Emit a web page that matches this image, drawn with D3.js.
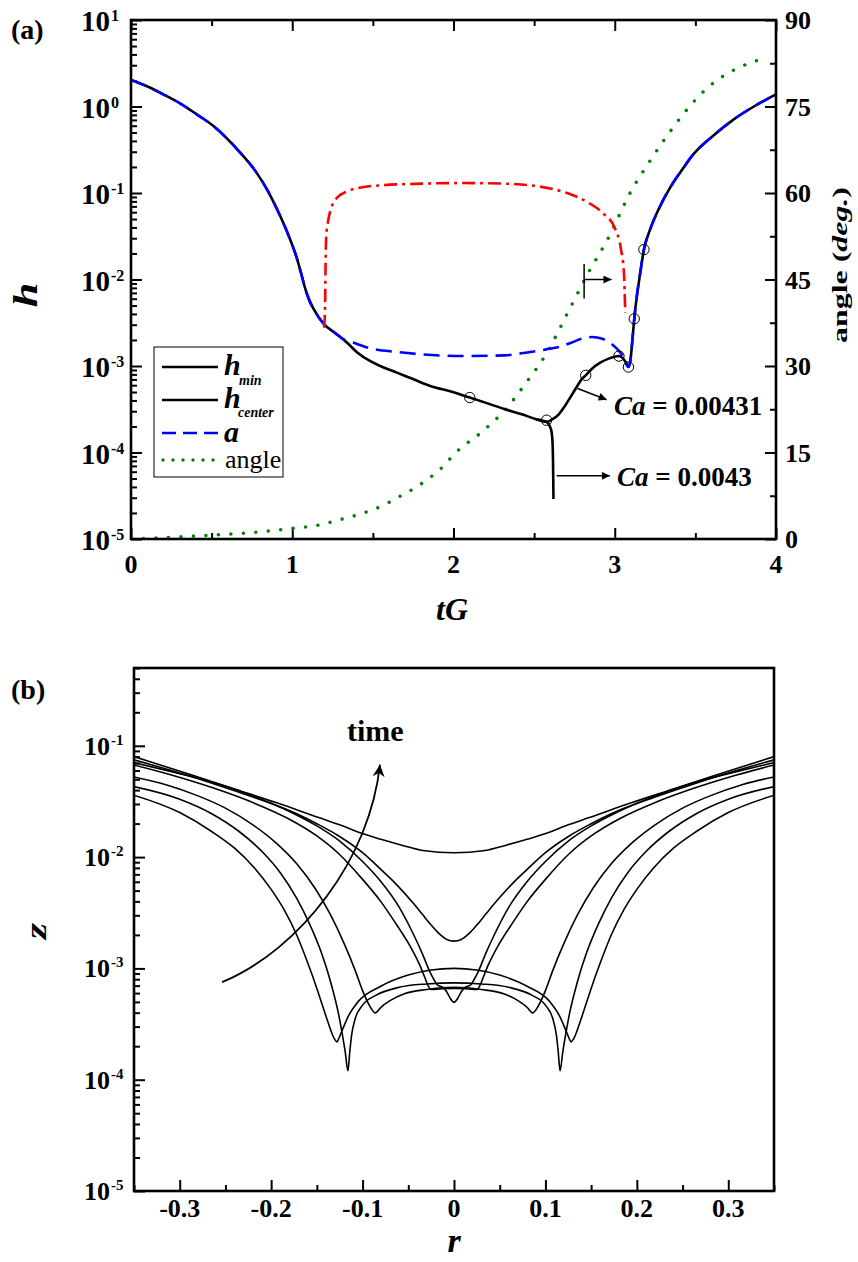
<!DOCTYPE html>
<html><head><meta charset="utf-8">
<script src="https://cdn.jsdelivr.net/npm/d3@7"></script>
<style>
body{margin:0;background:#fff}
svg{display:block}
</style>
</head><body><svg id="c" width="858" height="1262" font-family="Liberation Serif, Times New Roman, DejaVu Serif, serif" font-weight="bold"></svg>
<script>
// ---------- Panel (a) data (h values stored as log10) ----------
const hmin_t   = [0,0.103,0.206,0.309,0.412,0.515,0.593,0.670,0.773,0.850,0.902,0.940,0.979,1.031,1.057,1.082,1.108,1.134,1.198,1.263,1.340,1.405,1.482,1.546,1.649,1.753,1.856,1.985,2.101,2.216,2.320,2.423,2.513,2.577,2.614,2.653,2.691,2.730,2.768,2.794,2.820,2.859,2.910,2.962,3.026,3.052,3.070,3.085,3.098,3.108,3.121,3.137,3.155,3.181,3.219,3.271,3.348,3.425,3.477,3.605,3.734,3.863,4.0];
const hmin_log = [0.308,0.231,0.135,0.031,-0.096,-0.231,-0.365,-0.519,-0.75,-0.981,-1.173,-1.327,-1.5,-1.769,-1.942,-2.115,-2.25,-2.346,-2.519,-2.615,-2.731,-2.846,-2.942,-3.0,-3.077,-3.154,-3.231,-3.296,-3.365,-3.435,-3.5,-3.558,-3.615,-3.646,-3.615,-3.558,-3.462,-3.346,-3.231,-3.154,-3.108,-3.031,-2.962,-2.915,-2.885,-2.915,-2.962,-3.012,-2.923,-2.731,-2.454,-2.192,-1.962,-1.654,-1.423,-1.192,-0.923,-0.712,-0.577,-0.346,-0.154,0.0,0.14];
// Ca = 0.0043 branch (film ruptures)
const rupt_t   = [2.513,2.577,2.596,2.609,2.614,2.617,2.619,2.62];
const rupt_log = [-3.615,-3.646,-3.692,-3.769,-3.885,-4.077,-4.385,-4.538];
// a (dashed blue)
const a_t   = [0,0.103,0.206,0.309,0.412,0.515,0.593,0.670,0.773,0.850,0.902,0.940,0.979,1.031,1.057,1.082,1.108,1.134,1.198,1.263,1.313,1.391,1.494,1.649,1.803,2.06,2.318,2.447,2.575,2.653,2.730,2.794,2.859,2.923,2.975,3.013,3.052,3.085,3.098,3.108,3.121,3.137,3.155,3.181,3.219,3.271,3.348,3.425,3.477,3.605,3.734,3.863,4.0];
const a_log = [0.308,0.231,0.135,0.031,-0.096,-0.231,-0.365,-0.519,-0.75,-0.981,-1.173,-1.327,-1.5,-1.769,-1.942,-2.115,-2.25,-2.346,-2.519,-2.612,-2.685,-2.738,-2.8,-2.838,-2.865,-2.885,-2.877,-2.846,-2.808,-2.781,-2.731,-2.685,-2.665,-2.685,-2.738,-2.8,-2.892,-3.012,-2.923,-2.731,-2.454,-2.192,-1.962,-1.654,-1.423,-1.192,-0.923,-0.712,-0.577,-0.346,-0.154,0.0,0.14];
// red dash-dot
const red_t   = [1.198,1.204,1.206,1.211,1.224,1.242,1.276,1.340,1.443,1.546,1.803,2.060,2.318,2.524,2.704,2.833,2.936,3.0,3.039,3.057,3.065];
const red_log = [-2.558,-2.269,-1.923,-1.5,-1.308,-1.173,-1.058,-0.981,-0.931,-0.912,-0.892,-0.885,-0.892,-0.923,-1.0,-1.108,-1.25,-1.404,-1.654,-1.923,-2.385];
// contact angle (deg.)
const ang_t   = [0,0.258,0.515,0.773,1.005,1.16,1.289,1.418,1.546,1.675,1.804,1.933,2.01,2.19,2.32,2.448,2.577,2.706,2.835,2.964,3.093,3.222,3.35,3.479,3.608,3.737,3.93];
const ang_deg = [0,0.3,0.7,1.16,1.85,2.4,3.3,4.3,5.6,7.5,9.65,12.5,14.86,18.9,22.4,27.0,32.2,39.1,46.1,52.4,59.9,65.7,70.9,75.5,79.0,81.3,83.4];
// open circles (times of profiles)
const circ_t   = [2.101,2.577,2.820,3.026,3.085,3.121,3.181];
const circ_log = [-3.365,-3.627,-3.108,-2.885,-3.012,-2.454,-1.654];

const tGTicks = [0,1,2,3,4];
const tGMinor = [0.5,1.5,2.5,3.5];
const hDecades = [-5,-4,-3,-2,-1,0,1];
const angTicks = [0,15,30,45,60,75,90];
const angMinor = [7.5,22.5,37.5,52.5,67.5,82.5];

// ---------- Panel (b) data: half profiles (r >= 0, mirrored), log10 z ----------
const pA_r = [0,0.034,0.057,0.08,0.102,0.125,0.148,0.193,0.239,0.285,0.354];
const pA_z = [-1.961,-1.94,-1.893,-1.84,-1.784,-1.71,-1.645,-1.515,-1.391,-1.267,-1.087];
const pB_r = [0,0.008,0.016,0.025,0.035,0.044,0.066,0.08,0.1,0.126,0.15,0.172,0.22,0.263,0.31,0.354];
const pB_z = [-2.755,-2.74,-2.69,-2.61,-2.51,-2.42,-2.22,-2.11,-1.96,-1.81,-1.70,-1.61,-1.46,-1.34,-1.22,-1.118];
const pC_r = [0,0.004,0.008,0.012,0.018,0.022,0.027,0.035,0.044,0.06,0.08,0.1,0.126,0.15,0.18,0.22,0.263,0.31,0.354];
const pC_z = [-3.305,-3.27,-3.21,-3.17,-3.15,-3.10,-3.02,-2.86,-2.70,-2.45,-2.22,-2.04,-1.85,-1.72,-1.59,-1.45,-1.33,-1.23,-1.143];
const pD_r = [0,0.012,0.02,0.025,0.028,0.032,0.038,0.048,0.065,0.08,0.1,0.126,0.15,0.18,0.22,0.263,0.31,0.354];
const pD_z = [-3.18,-3.182,-3.188,-3.19,-3.16,-3.08,-2.96,-2.80,-2.58,-2.40,-2.20,-1.97,-1.81,-1.66,-1.51,-1.38,-1.26,-1.164];
const pE_r = [0,0.03,0.055,0.07,0.08,0.086,0.092,0.1,0.108,0.12,0.135,0.152,0.172,0.195,0.22,0.25,0.28,0.315,0.354];
const pE_z = [-3.17,-3.19,-3.23,-3.29,-3.35,-3.40,-3.34,-3.20,-3.02,-2.78,-2.52,-2.28,-2.06,-1.87,-1.71,-1.56,-1.45,-1.35,-1.273];
const pG_r = [0,0.03,0.06,0.085,0.1,0.108,0.112,0.114,0.116,0.119,0.122,0.126,0.135,0.145,0.158,0.172,0.19,0.21,0.235,0.265,0.3,0.354];
const pG_z = [-3.13,-3.14,-3.17,-3.24,-3.33,-3.45,-3.6,-3.75,-3.92,-3.75,-3.6,-3.42,-3.12,-2.86,-2.6,-2.37,-2.14,-1.95,-1.77,-1.61,-1.48,-1.36];
const pH_r = [0,0.025,0.05,0.08,0.105,0.115,0.122,0.126,0.128,0.131,0.135,0.14,0.15,0.16,0.172,0.186,0.2,0.218,0.24,0.265,0.3,0.354];
const pH_z = [-3.0,-3.015,-3.06,-3.16,-3.30,-3.42,-3.55,-3.63,-3.66,-3.63,-3.55,-3.43,-3.18,-2.95,-2.70,-2.47,-2.29,-2.10,-1.92,-1.77,-1.60,-1.434];
const profiles = [[pA_r,pA_z],[pB_r,pB_z],[pC_r,pC_z],[pD_r,pD_z],[pE_r,pE_z],[pG_r,pG_z],[pH_r,pH_z]];
const rTicks = [-0.3,-0.2,-0.1,0,0.1,0.2,0.3];
const rTickLabels = ["-0.3","-0.2","-0.1","0","0.1","0.2","0.3"];
const rMinor = [-0.35,-0.25,-0.15,-0.05,0.05,0.15,0.25,0.35];
const zDecades = [-5,-4,-3,-2,-1];

// ---------- drawing ----------
const FF = "'Liberation Serif','Times New Roman',Tinos,'DejaVu Serif',serif";
const svg = d3.select("#c");
svg.append("rect").attr("width",858).attr("height",1262).attr("fill","#fff");
const defs = svg.append("defs");
defs.append("marker").attr("id","arrS").attr("viewBox","0 0 10 10").attr("refX",10).attr("refY",5)
  .attr("markerUnits","userSpaceOnUse").attr("markerWidth",11).attr("markerHeight",8).attr("orient","auto")
  .append("path").attr("d","M0,0 L10,5 L0,10 z").attr("fill","#000");
defs.append("marker").attr("id","arrB").attr("viewBox","0 0 10 10").attr("refX",10).attr("refY",5)
  .attr("markerUnits","userSpaceOnUse").attr("markerWidth",16).attr("markerHeight",12).attr("orient","auto")
  .append("path").attr("d","M0,0 L10,5 L0,10 L3,5 z").attr("fill","#000");

const P = v => Math.pow(10, v);
const zip = (a,b) => a.map((d,i)=>[d,b[i]]);
function T(g, size, opts={}){
  const t = g.append("text").style("font-family",FF).style("font-weight",opts.normal?"normal":"bold").style("font-size",size+"px").attr("fill","#000");
  if(opts.italic) t.style("font-style","italic");
  return t;
}

// Panel (a) scales
const xa = d3.scaleLinear().domain([0,4]).range([131,776]);
const ya = d3.scaleLog().domain([1e-5,10]).range([539,20]);
const yr = d3.scaleLinear().domain([0,90]).range([539,20]);

const ga = svg.append("g");
function minorLog(decs){ const m=[]; decs.forEach(d=>{ if(d<d3.max(decs)) for(let k=2;k<=9;k++) m.push(k*P(d)); }); return m; }
function axisStyle(g){ g.select(".domain").remove(); g.selectAll("line").attr("stroke","#000").attr("stroke-width",2); }
ga.append("g").attr("transform","translate(131,0)").call(d3.axisLeft(ya).tickValues(hDecades.map(P)).tickSize(-11).tickFormat("")).call(axisStyle);
ga.append("g").attr("transform","translate(131,0)").call(d3.axisLeft(ya).tickValues(minorLog(hDecades)).tickSize(-6).tickFormat("")).call(axisStyle);
ga.append("g").attr("transform","translate(776,0)").call(d3.axisRight(yr).tickValues(angTicks).tickSize(-11).tickFormat("")).call(axisStyle);
ga.append("g").attr("transform","translate(776,0)").call(d3.axisRight(yr).tickValues(angMinor).tickSize(-6).tickFormat("")).call(axisStyle);
ga.append("g").attr("transform","translate(0,539)").call(d3.axisBottom(xa).tickValues(tGTicks).tickSize(-11).tickFormat("")).call(axisStyle);
ga.append("g").attr("transform","translate(0,539)").call(d3.axisBottom(xa).tickValues(tGMinor).tickSize(-6).tickFormat("")).call(axisStyle);
ga.append("g").attr("transform","translate(0,20)").call(d3.axisTop(xa).tickValues(tGTicks).tickSize(-11).tickFormat("")).call(axisStyle);
ga.append("g").attr("transform","translate(0,20)").call(d3.axisTop(xa).tickValues(tGMinor).tickSize(-6).tickFormat("")).call(axisStyle);

// tick labels (a)
hDecades.forEach(d=>{
  const y = ya(P(d));
  T(ga,29).attr("x",110).attr("y",y+11).attr("text-anchor","end").text("10");
  T(ga,16).attr("x",111).attr("y",y+1).text(String(d));
});
tGTicks.forEach(t=>{ T(ga,26).attr("x",xa(t)).attr("y",573).attr("text-anchor","middle").text(String(t)); });
angTicks.forEach(a=>{ T(ga,26).attr("x",785).attr("y",yr(a)+9).text(String(a)); });
// axis titles (a)
T(ga,34,{italic:true}).attr("transform","translate(37,295) rotate(-90) scale(1.3,1)").attr("text-anchor","middle").text("h");
T(ga,32,{italic:true}).attr("x",452).attr("y",620).attr("text-anchor","middle").text("tG");
const rt = T(ga,22).attr("transform","translate(847,265) rotate(-90) scale(1.45,1)").attr("text-anchor","middle");
rt.append("tspan").text("angle (");
rt.append("tspan").style("font-style","italic").text("deg.");
rt.append("tspan").text(")");
T(ga,28).attr("x",11).attr("y",39).text("(a)");

// curves (a)
const lineA = d3.line().x(d=>xa(d[0])).y(d=>ya(P(d[1]))).curve(d3.curveMonotoneX);
const lineAng = d3.line().x(d=>xa(d[0])).y(d=>yr(d[1])).curve(d3.curveMonotoneX);
defs.append("clipPath").attr("id","clipA").append("rect").attr("x",131).attr("y",20).attr("width",645).attr("height",519);
const cg = ga.append("g").attr("clip-path","url(#clipA)");
cg.append("path").attr("d",lineAng(zip(ang_t,ang_deg))).attr("fill","none").attr("stroke","#008000")
  .attr("stroke-width",3.6).attr("stroke-linecap","round").attr("stroke-dasharray","0,12.5");
cg.append("path").attr("d",lineA(zip(rupt_t,rupt_log))).attr("fill","none").attr("stroke","#000").attr("stroke-width",2.6);
cg.append("path").attr("d",lineA(zip(hmin_t,hmin_log))).attr("fill","none").attr("stroke","#000").attr("stroke-width",2.6);
cg.append("path").attr("d",lineA(zip(a_t,a_log))).attr("fill","none").attr("stroke","#0000ff").attr("stroke-width",2.6).attr("stroke-dasharray","16,8");
cg.append("path").attr("d",lineA(zip(red_t,red_log))).attr("fill","none").attr("stroke","#ff0000").attr("stroke-width",2.6).attr("stroke-dasharray","13,5,3,5");
cg.selectAll("circle.m").data(zip(circ_t,circ_log)).enter().append("circle")
  .attr("cx",d=>xa(d[0])).attr("cy",d=>ya(P(d[1]))).attr("r",5.2).attr("fill","none").attr("stroke","#000").attr("stroke-width",1);

// frame (a)
ga.append("rect").attr("x",131).attr("y",20).attr("width",645).attr("height",519).attr("fill","none").attr("stroke","#000").attr("stroke-width",2.6);

// annotations (a)
function ann(g,x1,y1,x2,y2){ g.append("line").attr("x1",x1).attr("y1",y1).attr("x2",x2).attr("y2",y2).attr("stroke","#000").attr("stroke-width",1.5).attr("marker-end","url(#arrS)"); }
ann(ga, xa(2.77), ya(P(-3.26)), xa(2.95), ya(P(-3.39)));
ann(ga, xa(2.64), ya(P(-4.27)), xa(2.97), ya(P(-4.27)));
ga.append("line").attr("x1",xa(2.81)).attr("x2",xa(2.81)).attr("y1",ya(P(-1.82))).attr("y2",ya(P(-2.22))).attr("stroke","#000").attr("stroke-width",1.5);
ann(ga, xa(2.81), ya(P(-2.0)), xa(2.98), ya(P(-2.0)));
function caLabel(g,x,y,val){
  const t = T(g,27).attr("x",x).attr("y",y);
  t.append("tspan").style("font-style","italic").text("Ca");
  t.append("tspan").text(" = " + val);
}
caLabel(ga, 614, 415, "0.00431");
caLabel(ga, 617, 486, "0.0043");

// legend (a)
const lg = ga.append("g");
lg.append("rect").attr("x",154).attr("y",347).attr("width",129).attr("height",130).attr("fill","#fff").attr("stroke","#000").attr("stroke-width",1);
const legItems = [
  {y:367, stroke:"#000", dash:null, w:2.6},
  {y:400, stroke:"#000", dash:null, w:2.6},
  {y:433, stroke:"#0000ff", dash:"14,7", w:2.6},
  {y:460, stroke:"#008000", dash:"0,10", w:3.4, cap:"round"}
];
legItems.forEach(d=>{
  lg.append("line").attr("x1",d.cap?163:162).attr("x2",218).attr("y1",d.y).attr("y2",d.y).attr("stroke",d.stroke)
    .attr("stroke-width",d.w).attr("stroke-dasharray",d.dash).attr("stroke-linecap",d.cap||"butt");
});
T(lg,30,{italic:true}).attr("x",224).attr("y",375).text("h");
T(lg,14,{italic:true}).attr("x",239).attr("y",385).text("min");
T(lg,30,{italic:true}).attr("x",224).attr("y",408).text("h");
T(lg,14,{italic:true}).attr("x",238).attr("y",417).text("center");
T(lg,30,{italic:true}).attr("x",224).attr("y",442).text("a");
T(lg,26,{normal:true}).attr("x",225).attr("y",468).text("angle");

// ---------- Panel (b) ----------
const xb = d3.scaleLinear().domain([-0.35,0.35]).range([134,774]);
const yb = d3.scaleLog().domain([1e-5,0.5]).range([1191,668]);
const gb = svg.append("g");
gb.append("g").attr("transform","translate(134,0)").call(d3.axisLeft(yb).tickValues(zDecades.map(P)).tickSize(-11).tickFormat("")).call(axisStyle);
const zMinor = []; zDecades.forEach(d=>{ for(let k=2;k<=9;k++){ const v=k*P(d); if(v<=0.5) zMinor.push(v);} });
gb.append("g").attr("transform","translate(134,0)").call(d3.axisLeft(yb).tickValues(zMinor).tickSize(-6).tickFormat("")).call(axisStyle);
gb.append("g").attr("transform","translate(0,1191)").call(d3.axisBottom(xb).tickValues(rTicks).tickSize(-11).tickFormat("")).call(axisStyle);
gb.append("g").attr("transform","translate(0,1191)").call(d3.axisBottom(xb).tickValues(rMinor).tickSize(-6).tickFormat("")).call(axisStyle);
zDecades.forEach(d=>{
  const y = yb(P(d));
  T(gb,26).attr("x",110).attr("y",y+9).attr("text-anchor","end").text("10");
  T(gb,15).attr("x",111).attr("y",y-1).text(String(d));
});
rTicks.forEach((t,i)=>{ T(gb,26).attr("x",xb(t)).attr("y",1217).attr("text-anchor","middle").text(rTickLabels[i]); });
T(gb,30,{italic:true}).attr("transform","translate(46,931) rotate(-90) scale(1.4,1)").attr("text-anchor","middle").text("z");
T(gb,34,{italic:true}).attr("x",454).attr("y",1252).attr("text-anchor","middle").text("r");
T(gb,28).attr("x",11).attr("y",699).text("(b)");

const lineB = d3.line().x(d=>xb(d[0])).y(d=>yb(P(d[1]))).curve(d3.curveMonotoneX);
defs.append("clipPath").attr("id","clipB").append("rect").attr("x",134).attr("y",668).attr("width",640).attr("height",523);
const cb = gb.append("g").attr("clip-path","url(#clipB)");
profiles.forEach(([r,z])=>{
  const half = zip(r,z);
  const full = half.slice(1).map(d=>[-d[0],d[1]]).reverse().concat(half);
  cb.append("path").attr("d",lineB(full)).attr("fill","none").attr("stroke","#000").attr("stroke-width",1.6);
});
gb.append("rect").attr("x",134).attr("y",668).attr("width",640).attr("height",523).attr("fill","none").attr("stroke","#000").attr("stroke-width",2.6);

// time arrow
const arr_r = [-0.2536,-0.168,-0.092,-0.081];
const arr_z = [-3.124,-2.828,-2.02,-1.17];
const ap = d3.path();
ap.moveTo(xb(arr_r[0]), yb(P(arr_z[0])));
ap.bezierCurveTo(xb(arr_r[1]), yb(P(arr_z[1])), xb(arr_r[2]), yb(P(arr_z[2])), xb(arr_r[3]), yb(P(arr_z[3])));
gb.append("path").attr("d",ap.toString()).attr("fill","none").attr("stroke","#000").attr("stroke-width",1.8).attr("marker-end","url(#arrB)");
T(gb,30).attr("x",xb(-0.117)).attr("y",yb(P(-0.955))).text("time");
</script>
</body></html>
